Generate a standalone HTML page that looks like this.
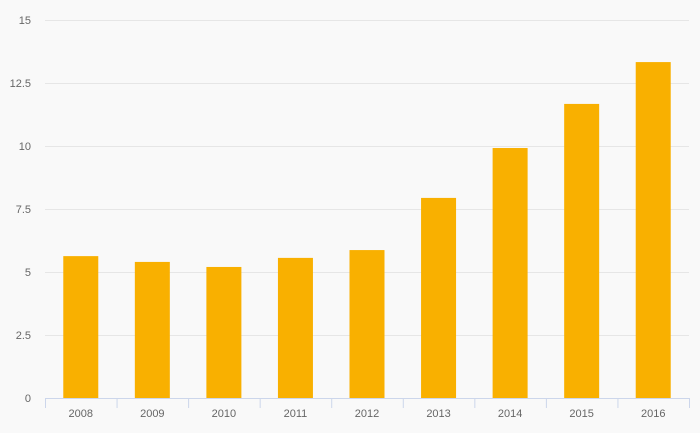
<!DOCTYPE html>
<html><head><meta charset="utf-8"><style>
body{margin:0;background:#f9f9f9;}
svg{display:block;font-family:"Liberation Sans",sans-serif;}
</style></head><body>
<svg id="chart" width="700" height="433">
<rect width="700" height="433" fill="#f9f9f9"/>
<g id="grid"></g>
<g id="yticks"></g>
<g id="bars"></g>
<g id="xaxis"></g>
</svg>
<script>
const categories=["2008","2009","2010","2011","2012","2013","2014","2015","2016"];
const values=[5.63,5.4,5.2,5.56,5.87,7.94,9.92,11.67,13.33];
const yTicks=[0,2.5,5,7.5,10,12.5,15];
const yTickLabels=["0","2.5","5","7.5","10","12.5","15"];
const NS="http://www.w3.org/2000/svg";
const L=45,R=689,T=20,B=398,yMax=15;
const band=(R-L)/categories.length;
const y=v=>B-(v/yMax)*(B-T);
const x=i=>L+i*band;
function mk(tag,attrs,parent){const e=document.createElementNS(NS,tag);for(const k in attrs)e.setAttribute(k,attrs[k]);parent.appendChild(e);return e;}
const grid=document.getElementById('grid'),yt=document.getElementById('yticks'),bars=document.getElementById('bars'),xa=document.getElementById('xaxis');
yTicks.forEach((v,i)=>{
 if(v>0){const g=mk('line',{x1:L,x2:R,y1:y(v)+0.5,y2:y(v)+0.5,stroke:'#e6e6e6','stroke-width':1},grid);
 
 }
 const t=mk('text',{x:31,y:y(v)+4,'text-anchor':'end','font-size':11,fill:'#666'},yt);
 t.textContent=yTickLabels[i];
 
 
});
values.forEach((v,i)=>{
 const bw=35;
 const r=mk('rect',{x:x(i)+(band-bw)/2,y:y(v),width:bw,height:B-y(v),fill:'#f9b000'},bars);
 
 
});
const ax=mk('line',{x1:L,x2:R,y1:B+0.5,y2:B+0.5,stroke:'#ccd6eb','stroke-width':1},xa);


for(let i=0;i<=categories.length;i++){
 const tk=mk('line',{x1:x(i)+0.5,x2:x(i)+0.5,y1:B,y2:B+10,stroke:'#ccd6eb','stroke-width':1},xa);
 
 
}
categories.forEach((c,i)=>{
 const t=mk('text',{x:x(i)+band/2,y:417,'text-anchor':'middle','font-size':11,fill:'#666'},xa);
 t.textContent=c;
 
 
});
</script>
</body></html>
